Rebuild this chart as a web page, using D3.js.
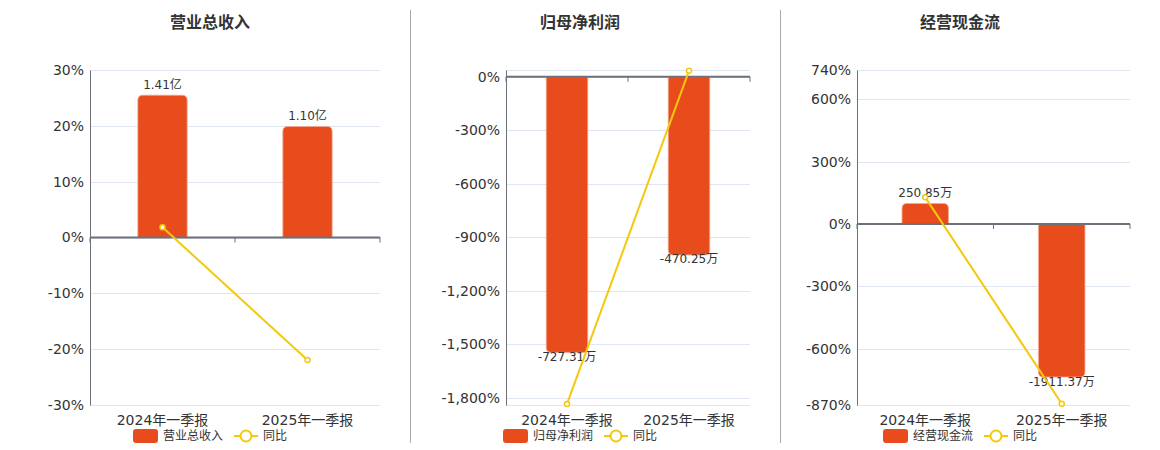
<!DOCTYPE html>
<html>
<head>
<meta charset="utf-8">
<script src="https://cdn.jsdelivr.net/npm/d3@7"></script>
<style>
  body { margin: 0; background: #fff; }
  text { font-family: "DejaVu Sans", "Noto Sans CJK SC", sans-serif; }
</style>
</head>
<body>
<div id="chart"></div>
<script>
// data
const categories = ["2024年一季报", "2025年一季报"];
const titles = ["营业总收入", "归母净利润", "经营现金流"];
const barValues = [[1.41, 1.10], [-727.31, -470.25], [250.85, -1911.37]];
const barLabels = [["1.41亿", "1.10亿"], ["-727.31万", "-470.25万"], ["250.85万", "-1911.37万"]];
const yoyValues = [[1.84, -21.96], [-1835, 33.6], [128, -864]];
const pctDomains = [[-30, 30], [-1841, 38], [-870, 740]];
const pctTicks = [
  [-30, -20, -10, 0, 10, 20, 30],
  [-1800, -1500, -1200, -900, -600, -300, 0],
  [-870, -600, -300, 0, 300, 600, 740]
];
const barDomains = [[-1.66, 1.66], [-866, 17.7], [-2260, 1914]];
const legendName = "同比";

const width = 1160;
const height = 450;
const orange = "#e84c1d";
const yellow = "#f3c90c";
const axisColor = "#6e7079";
const gridColor = "#e0e6f1";
const textColor = "#333";

// per panel layout
const plotX = [[90, 380], [506, 750], [857, 1130]];
const centers = [210, 580, 960];
const plotTop = 70;
const plotBottom = 405;

const fmt = d => d3.format(",")(d).replace("\u2212", "-") + "%";

const svg = d3.select("#chart").append("svg")
    .attr("width", width)
    .attr("height", height);

// dividers
[410.5, 780.5].forEach(x => {
  svg.append("line")
    .attr("x1", x).attr("x2", x)
    .attr("y1", 10).attr("y2", 443)
    .attr("stroke", "#aaa");
});

function barPath(x0, w, y0, y1, r) {
  // y0 = zero line, y1 = value end; round the end corners
  const up = y1 < y0;
  const h = Math.abs(y1 - y0);
  r = Math.min(r, h, w / 2);
  if (up) {
    return `M${x0},${y0}V${y1 + r}Q${x0},${y1} ${x0 + r},${y1}H${x0 + w - r}Q${x0 + w},${y1} ${x0 + w},${y1 + r}V${y0}Z`;
  }
  return `M${x0},${y0}V${y1 - r}Q${x0},${y1} ${x0 + r},${y1}H${x0 + w - r}Q${x0 + w},${y1} ${x0 + w},${y1 - r}V${y0}Z`;
}

titles.forEach((title, i) => {
  const g = svg.append("g");
  const [left, right] = plotX[i];
  const cx = centers[i];

  const x = d3.scaleBand()
    .domain(categories)
    .range([left, right]);

  const y = d3.scaleLinear()
    .domain(pctDomains[i])
    .range([plotBottom, plotTop]);

  const yBar = d3.scaleLinear()
    .domain(barDomains[i])
    .range([plotBottom, plotTop]);

  const rows = categories.map((c, j) => ({
    cat: c, bar: barValues[i][j], label: barLabels[i][j], yoy: yoyValues[i][j]
  }));

  // title
  g.append("text")
    .attr("x", cx).attr("y", 23)
    .attr("text-anchor", "middle")
    .attr("dominant-baseline", "middle")
    .attr("font-size", 16)
    .attr("font-weight", "bold")
    .attr("fill", textColor)
    .text(title);

  // gridlines, incl. the domain ends
  const gridVals = Array.from(new Set([...pctTicks[i], ...pctDomains[i]]));
  g.append("g")
    .selectAll("line")
    .data(gridVals)
    .join("line")
      .attr("x1", left).attr("x2", right)
      .attr("y1", d => Math.round(y(d)) + 0.5)
      .attr("y2", d => Math.round(y(d)) + 0.5)
      .attr("stroke", gridColor);

  // y axis
  const yAxis = g.append("g")
    .attr("transform", `translate(${left},0)`)
    .call(d3.axisLeft(y)
      .tickValues(pctTicks[i])
      .tickSize(0)
      .tickPadding(6)
      .tickFormat(fmt));
  yAxis.select(".domain").attr("stroke", axisColor);
  yAxis.selectAll("text")
    .attr("font-size", 14)
    .attr("fill", textColor)
    .style("font-family", '"DejaVu Sans", "Noto Sans CJK SC", sans-serif');

  // bars
  const bw = x.bandwidth() * 0.34;
  g.append("g")
    .selectAll("path")
    .data(rows)
    .join("path")
      .attr("d", d => barPath(x(d.cat) + (x.bandwidth() - bw) / 2, bw, yBar(0), yBar(d.bar), 5))
      .attr("fill", orange)
      .attr("stroke", "#f3a68c")
      .attr("stroke-width", 0.8);

  // zero line + ticks
  const y0 = y(0);
  g.append("line")
    .attr("x1", left).attr("x2", right)
    .attr("y1", y0).attr("y2", y0)
    .attr("stroke", axisColor)
    .attr("stroke-width", 2);
  g.append("g")
    .selectAll("line")
    .data([...categories.map(c => x(c)), right])
    .join("line")
      .attr("x1", d => d).attr("x2", d => d)
      .attr("y1", y0).attr("y2", y0 + 5)
      .attr("stroke", axisColor);

  // category labels
  g.append("g")
    .selectAll("text")
    .data(categories)
    .join("text")
      .attr("x", d => x(d) + x.bandwidth() / 2)
      .attr("y", 421)
      .attr("text-anchor", "middle")
      .attr("dominant-baseline", "middle")
      .attr("font-size", 14)
      .attr("fill", textColor)
      .text(d => d);

  // bar labels
  g.append("g")
    .selectAll("text")
    .data(rows)
    .join("text")
      .attr("x", d => x(d.cat) + x.bandwidth() / 2)
      .attr("y", d => d.bar >= 0 ? yBar(d.bar) - 10 : yBar(d.bar) + 5)
      .attr("text-anchor", "middle")
      .attr("dominant-baseline", "middle")
      .attr("font-size", 12)
      .attr("fill", textColor)
      .text(d => d.label);

  // yoy line
  const line = d3.line()
    .x(d => x(d.cat) + x.bandwidth() / 2)
    .y(d => y(d.yoy));
  g.append("path")
    .attr("d", line(rows))
    .attr("fill", "none")
    .attr("stroke", yellow)
    .attr("stroke-width", 2);
  g.append("g")
    .selectAll("circle")
    .data(rows)
    .join("circle")
      .attr("cx", d => x(d.cat) + x.bandwidth() / 2)
      .attr("cy", d => y(d.yoy))
      .attr("r", 2.5)
      .attr("fill", "#fff")
      .attr("stroke", yellow)
      .attr("stroke-width", 1.5);

  // legend
  const ly = 436;
  const lg = g.append("g");
  lg.append("rect")
    .attr("x", cx - 77).attr("y", ly - 7)
    .attr("width", 25).attr("height", 14)
    .attr("rx", 3)
    .attr("fill", orange);
  lg.append("text")
    .attr("x", cx - 47).attr("y", ly)
    .attr("dominant-baseline", "middle")
    .attr("font-size", 12)
    .attr("fill", textColor)
    .text(title);
  lg.append("line")
    .attr("x1", cx + 24).attr("x2", cx + 48)
    .attr("y1", ly).attr("y2", ly)
    .attr("stroke", yellow)
    .attr("stroke-width", 2);
  lg.append("circle")
    .attr("cx", cx + 36).attr("cy", ly)
    .attr("r", 5.5)
    .attr("fill", "#fff")
    .attr("stroke", yellow)
    .attr("stroke-width", 2);
  lg.append("text")
    .attr("x", cx + 53).attr("y", ly)
    .attr("dominant-baseline", "middle")
    .attr("font-size", 12)
    .attr("fill", textColor)
    .text(legendName);
});
</script>
</body>
</html>
